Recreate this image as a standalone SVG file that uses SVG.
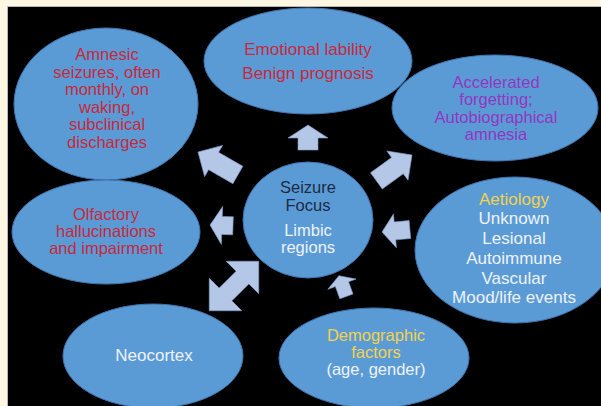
<svg xmlns="http://www.w3.org/2000/svg" width="601" height="406" viewBox="0 0 601 406">
<style>
.node{fill:#5b9bd5;stroke:#3f74ad;stroke-width:1}
.arr{fill:#b4c7e7;stroke:#7f9cc8;stroke-width:0.6}
text{font-family:"Liberation Sans",Arial,sans-serif;font-size:17px;text-anchor:middle}
.sm{font-size:16.5px}
.red{fill:#c8283c}
.pur{fill:#9236c2}
.yel{fill:#f2d24e}
.wht{fill:#eef2fa}
.dk{fill:#1c2b45}
</style>
<rect x="0" y="0" width="601" height="406" fill="#fdf6e3"/>
<rect x="7.5" y="6.5" width="600" height="406" fill="#000" stroke="#b8b8b8" stroke-width="1"/>
<g id="connectors">
<polygon class="arr" points="308,125 328,138 318,138 318,150 298,150 298,138 288,138"/>
<polygon class="arr" transform="translate(198,152) rotate(210)" points="0,0 -18,-18 -18,-10 -46,-10 -46,10 -18,10 -18,18"/>
<polygon class="arr" transform="translate(412,155) rotate(-36)" points="0,0 -18,-18 -18,-10 -44,-10 -44,10 -18,10 -18,18"/>
<polygon class="arr" transform="translate(210,225) rotate(182)" points="0,0 -12,-19 -12,-9 -23,-9 -23,9 -12,9 -12,19"/>
<polygon class="arr" transform="translate(382,232) rotate(175)" points="0,0 -13,-17 -13,-9 -28,-9 -28,9 -13,9 -13,17"/>
<polygon class="arr" transform="translate(234,286) rotate(-45)" points="35,0 12,-23 12,-9 -12,-9 -12,-23 -35,0 -12,23 -12,9 12,9 12,23"/>
<polygon class="arr" transform="translate(343,287) rotate(-20)" points="0,-12 15,-3 7,-3 7,10 -7,10 -7,-3 -15,-3"/>
</g>
<g id="emotional">
<ellipse class="node" cx="308" cy="61" rx="104" ry="53"/>
<text class="red" x="308" y="55">Emotional lability</text>
<text class="red" x="308" y="79">Benign prognosis</text>
</g>
<g id="amnesic">
<ellipse class="node" cx="106" cy="104" rx="92" ry="76"/>
<text class="red sm" x="107" y="60">Amnesic</text>
<text class="red sm" x="107" y="78">seizures, often</text>
<text class="red sm" x="107" y="95">monthly, on</text>
<text class="red sm" x="107" y="113">waking,</text>
<text class="red sm" x="107" y="130">subclinical</text>
<text class="red sm" x="107" y="148">discharges</text>
</g>
<g id="accelerated">
<ellipse class="node" cx="495" cy="108" rx="103" ry="53"/>
<text class="pur sm" x="496" y="88">Accelerated</text>
<text class="pur sm" x="496" y="105">forgetting;</text>
<text class="pur sm" x="496" y="123">Autobiographical</text>
<text class="pur sm" x="496" y="140">amnesia</text>
</g>
<g id="olfactory">
<ellipse class="node" cx="106" cy="232" rx="94" ry="52"/>
<text class="red sm" x="106" y="220">Olfactory</text>
<text class="red sm" x="106" y="237">hallucinations</text>
<text class="red sm" x="106" y="254">and impairment</text>
</g>
<g id="focus">
<ellipse class="node" cx="308" cy="220" rx="65" ry="58"/>
<text class="dk sm" x="308" y="193">Seizure</text>
<text class="dk sm" x="308" y="211">Focus</text>
<text class="wht sm" x="308" y="236">Limbic</text>
<text class="wht sm" x="308" y="253">regions</text>
</g>
<g id="aetiology">
<ellipse class="node" cx="515" cy="250" rx="100" ry="73"/>
<text class="yel" x="514" y="205">Aetiology</text>
<text class="wht" x="514" y="224">Unknown</text>
<text class="wht" x="514" y="244">Lesional</text>
<text class="wht" x="514" y="264">Autoimmune</text>
<text class="wht" x="514" y="284">Vascular</text>
<text class="wht" x="514" y="303">Mood/life events</text>
</g>
<g id="neocortex">
<ellipse class="node" cx="153" cy="356" rx="90" ry="52"/>
<text class="wht" x="154" y="361">Neocortex</text>
</g>
<g id="demographic">
<ellipse class="node" cx="374" cy="358" rx="95" ry="50"/>
<text class="yel sm" x="376" y="341">Demographic</text>
<text class="yel sm" x="376" y="358">factors</text>
<text class="wht sm" x="376" y="375">(age, gender)</text>
</g>
</svg>
